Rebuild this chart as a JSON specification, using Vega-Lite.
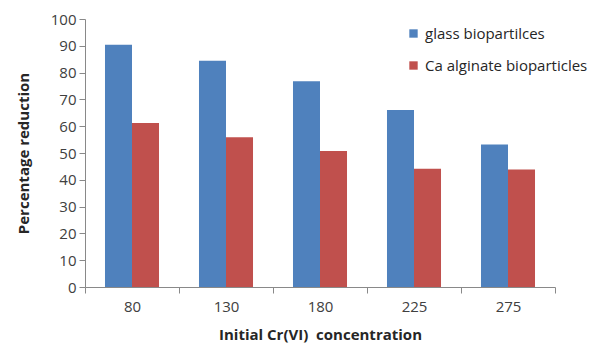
{
  "$schema": "https://vega.github.io/schema/vega-lite/v6.json",
  "width": 470,
  "height": 268,
  "autosize": {"type": "none"},
  "padding": {"left": 85, "top": 19, "right": 48, "bottom": 57},
  "background": "white",
  "data": {
    "values": [
      {"conc": "80", "series": "glass biopartilces", "value": 90.4},
      {"conc": "80", "series": "Ca alginate bioparticles", "value": 61.2},
      {"conc": "130", "series": "glass biopartilces", "value": 84.4},
      {"conc": "130", "series": "Ca alginate bioparticles", "value": 55.9},
      {"conc": "180", "series": "glass biopartilces", "value": 76.8},
      {"conc": "180", "series": "Ca alginate bioparticles", "value": 50.7},
      {"conc": "225", "series": "glass biopartilces", "value": 66.0},
      {"conc": "225", "series": "Ca alginate bioparticles", "value": 44.1},
      {"conc": "275", "series": "glass biopartilces", "value": 53.2},
      {"conc": "275", "series": "Ca alginate bioparticles", "value": 43.8}
    ]
  },
  "mark": {"type": "bar"},
  "encoding": {
    "x": {
      "field": "conc",
      "type": "nominal",
      "sort": ["80", "130", "180", "225", "275"],
      "scale": {"paddingInner": 0, "paddingOuter": 0},
      "axis": {
        "title": "Initial Cr(VI)\u00a0 concentration",
        "labelAngle": 0,
        "tickBand": "extent",
        "tickSize": 6,
        "tickColor": "#898989",
        "domainColor": "#898989",
        "labelFont": "Open Sans",
        "labelFontSize": 15,
        "labelColor": "#404040",
        "labelPadding": 6,
        "titleFont": "Open Sans",
        "titleFontSize": 15,
        "titleFontWeight": "bold",
        "titleColor": "#262626",
        "titlePadding": 13
      }
    },
    "xOffset": {
      "field": "series",
      "sort": ["glass biopartilces", "Ca alginate bioparticles"],
      "scale": {"paddingInner": 0, "paddingOuter": 0.74}
    },
    "y": {
      "field": "value",
      "type": "quantitative",
      "scale": {"domain": [0, 100]},
      "axis": {
        "title": "Percentage reduction",
        "values": [0, 10, 20, 30, 40, 50, 60, 70, 80, 90, 100],
        "grid": false,
        "tickSize": 6,
        "tickColor": "#898989",
        "domainColor": "#898989",
        "labelFont": "Open Sans",
        "labelFontSize": 15,
        "labelColor": "#404040",
        "labelPadding": 3,
        "titleFont": "Open Sans",
        "titleFontSize": 15,
        "titleFontWeight": "bold",
        "titleColor": "#262626",
        "titleX": -62,
        "titleY": 134,
        "titleBaseline": "middle"
      }
    },
    "color": {
      "field": "series",
      "type": "nominal",
      "sort": ["glass biopartilces", "Ca alginate bioparticles"],
      "scale": {
        "domain": ["glass biopartilces", "Ca alginate bioparticles"],
        "range": ["#4F81BD", "#C0504D"]
      },
      "legend": {
        "title": null,
        "orient": "none",
        "legendX": 321,
        "legendY": 7,
        "padding": 0,
        "symbolType": "square",
        "symbolSize": 70,
        "symbolStrokeWidth": 0,
        "labelFont": "Open Sans",
        "labelFontSize": 15,
        "labelColor": "#262626",
        "labelOffset": 4,
        "labelLimit": 400,
        "rowPadding": 16
      }
    }
  },
  "config": {"view": {"stroke": null}}
}
